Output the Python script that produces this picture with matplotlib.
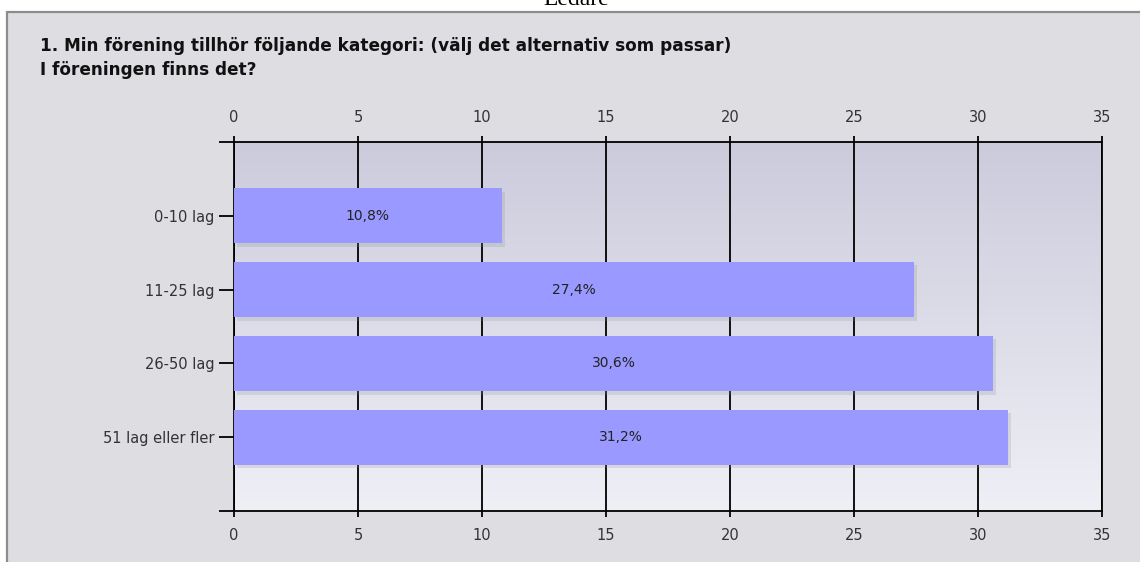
import numpy as np
import matplotlib.pyplot as plt
import matplotlib.patheffects as pe
from matplotlib.patches import Rectangle
from matplotlib.colors import LinearSegmentedColormap

# Survey data
categories = ['0-10 lag', '11-25 lag', '26-50 lag', '51 lag eller fler']
percent = [10.8, 27.4, 30.6, 31.2]
labels = ['10,8%', '27,4%', '30,6%', '31,2%']
xticks = [0, 5, 10, 15, 20, 25, 30, 35]

title = ('1. Min förening tillhör följande kategori: (välj det alternativ som passar)\n'
         'I föreningen finns det?')

W, H = 1140, 562
fig = plt.figure(figsize=(W / 100, H / 100), dpi=100)
fig.patch.set_facecolor('white')

# grey panel with border
panel = Rectangle((7 / W, -0.01), 1.0, 1 - 12 / H + 0.01, transform=fig.transFigure,
                  facecolor='#dedde2', edgecolor='#8c8c8c', linewidth=1.6, zorder=-5)
fig.patches.append(panel)

# clipped page header
fig.text(576 / W, 1 - 5 / H, 'Ledare', family='Liberation Serif', fontsize=17,
         ha='center', va='baseline', color='black')

fig.text(40 / W, 1 - 37 / H, title, fontsize=12.2, fontweight='bold', color='#111111',
         ha='left', va='top', linespacing=1.42, family='DejaVu Sans')

ax = fig.add_axes([234 / W, 1 - 511 / H, (1102 - 234) / W, (511 - 142) / H])
ax.set_xlim(0, 35)
ax.set_ylim(4.0, -1.0)

# gradient background
grad = np.linspace(0, 1, 256).reshape(-1, 1)
ax.imshow(grad, extent=[0, 35, 4.0, -1.0], aspect='auto', zorder=0,
          cmap=LinearSegmentedColormap.from_list('bg', ['#cbcbdc', '#efeff6']))

for x in xticks:
    ax.axvline(x, color='black', linewidth=1.3, zorder=1)

y = np.arange(len(categories))
bars = ax.barh(y, percent, height=0.75, color='#9999ff', zorder=3)
for b in bars:
    b.set_path_effects([pe.SimplePatchShadow(offset=(2.5, -2.5), shadow_rgbFace='#909090', alpha=0.22),
                        pe.Normal()])

for yi, v, lab in zip(y, percent, labels):
    ax.text(v / 2, yi, lab, ha='center', va='center', fontsize=10, color='#222222', zorder=4)

ax.set_xticks(xticks)
ax.set_xticklabels([str(t) for t in xticks])
ax.tick_params(axis='x', which='both', top=True, labeltop=True, bottom=True, labelbottom=True,
               direction='out', length=4, width=1.3, labelsize=10.5, colors='black',
               labelcolor='#333333', pad=8)
ax.set_yticks(list(y) + [-1.0, 4.0])
ax.set_yticklabels(categories + ['', ''])
ax.tick_params(axis='y', direction='out', length=11, width=1.3, labelsize=10.5,
               labelcolor='#333333', pad=3)
for s in ax.spines.values():
    s.set_linewidth(1.3)
    s.set_color('black')

fig.savefig('out.png', dpi=100)
